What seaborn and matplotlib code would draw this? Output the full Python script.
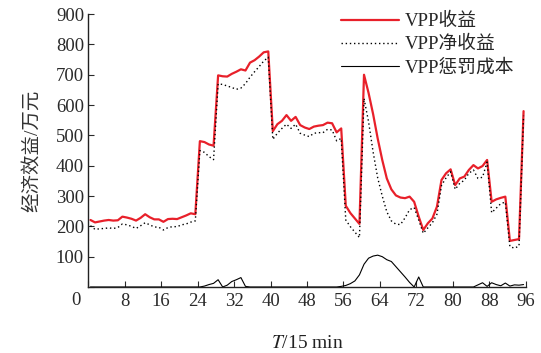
import numpy as np
import pandas as pd
import matplotlib
matplotlib.use("Agg")
import matplotlib.pyplot as plt
import seaborn as sns

# time index (15-min intervals)
T = np.arange(0.5, 96, 1.0)

revenue = [221, 213, 216, 219, 221, 219, 220, 232, 229, 225, 219, 228, 240, 230, 223, 223,
           215, 224, 225, 224, 230, 236, 243, 240,
           481, 478, 470, 466, 698, 695, 694, 703, 710, 718, 714, 740, 748, 760, 774, 777,
           514, 537, 548, 567, 548, 561, 534, 526, 521, 529, 532, 534, 542, 540, 510, 523,
           268, 244, 226, 208,
           700, 640, 570, 490, 419, 358, 322, 302, 295, 293, 298, 281, 232, 188, 210, 226,
           265, 353, 375, 388, 336, 358, 364, 386, 402, 391, 399, 419, 281, 289, 294, 298,
           152, 155, 158, 580]

net_revenue = [202, 190, 192, 193, 195, 193, 196, 208, 205, 200, 193, 202, 212, 205, 198, 197,
               188, 196, 199, 199, 205, 208, 214, 218,
               450, 444, 430, 420, 670, 668, 663, 658, 652, 656, 671, 692, 710, 727, 745, 758,
               487, 507, 523, 537, 523, 537, 507, 501, 496, 507, 509, 509, 520, 518, 482, 490,
               221, 199, 181, 163,
               622, 545, 445, 360, 300, 248, 218, 207, 206, 228, 255, 262, 221, 177, 195, 212,
               240, 335, 360, 380, 322, 342, 352, 375, 386, 358, 362, 412, 245, 260, 275, 280,
               133, 128, 135, 565]

penalty = [0] * 24 + \
          [0, 3, 8, 12, 24, 0, 6, 18, 24, 31, 2, 0, 0, 0, 0, 0] + \
          [0] * 15 + [2] + \
          [5, 11, 20, 40] + \
          [75, 95, 102, 105, 100, 90, 84, 67, 50, 33, 15, 0, 33, 0, 0, 0] + \
          [0, 0, 0, 0, 0, 0, 0, 0, 0, 7, 14, 2, 14, 8, 4, 13] + \
          [3, 7, 6, 8]

x_ticks = list(range(0, 97, 8))
y_ticks = list(range(0, 901, 100))

df = pd.DataFrame({"T": T, "rev": revenue, "net": net_revenue, "pen": penalty})

sns.set_style("ticks")
plt.rcParams['font.family'] = ['Liberation Serif', 'Noto Sans CJK SC', 'DejaVu Sans']
plt.rcParams['mathtext.fontset'] = 'stix'
plt.rcParams['xtick.direction'] = 'in'
plt.rcParams['ytick.direction'] = 'in'

fig = plt.figure(figsize=(5.41, 3.53), dpi=100)
ax = fig.add_axes([0.163, 0.187, 0.809, 0.773])

sns.lineplot(data=df, x="T", y="rev", ax=ax, color="#e8202a", lw=1.6, label="VPP收益")
sns.lineplot(data=df, x="T", y="net", ax=ax, color="black", lw=1.0, ls=(0, (1, 2.0)),
             label="VPP净收益")
sns.lineplot(data=df, x="T", y="pen", ax=ax, color="black", lw=0.8, label="VPP惩罚成本")

ax.set_xlim(0, 96)
ax.set_ylim(0, 900)
ax.set_xticks(x_ticks)
ax.set_xticklabels([''] + [str(v) for v in x_ticks[1:]])
ax.set_yticks(y_ticks)
ax.set_yticklabels([''] + [str(v) for v in y_ticks[1:]])
ax.text(-0.027, -0.048, '0', transform=ax.transAxes, ha='center', va='center',
        fontsize=13.5, color='#2a2a2a')
ax.tick_params(axis='both', labelsize=13.5, length=4, width=0.8, colors='#2a2a2a')
ax.tick_params(axis='y', pad=3)
ax.tick_params(axis='x', pad=4)
for s in ['top', 'right']:
    ax.spines[s].set_visible(False)
for s in ['left', 'bottom']:
    ax.spines[s].set_linewidth(1.0)
    ax.spines[s].set_color('#222222')

ax.set_xlabel(r'$T$/15 min', fontsize=14, labelpad=18, color='#222222')
ax.set_ylabel('经济效益/万元', fontsize=14, labelpad=11, color='#333333')

leg = ax.legend(loc='upper right', bbox_to_anchor=(1.0, 1.045), frameon=False,
                fontsize=13.5, handlelength=3.1, handletextpad=0.3, labelspacing=0.3,
                borderaxespad=0.2)

fig.savefig("out.png", dpi=100)
